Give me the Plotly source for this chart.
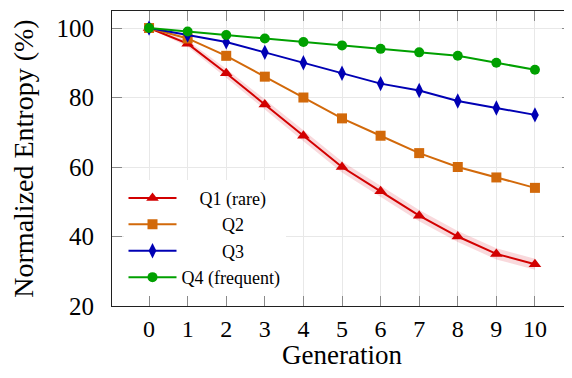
import plotly.graph_objects as go

generations = [0, 1, 2, 3, 4, 5, 6, 7, 8, 9, 10]
q1_rare = [100, 95.5, 87, 78, 69, 60, 53, 46, 40, 35, 32]
q1_spread = [0, 0.9, 1.3, 1.5, 1.6, 1.6, 1.6, 1.6, 1.6, 1.6, 1.6]
q2 = [100, 97, 92, 86, 80, 74, 69, 64, 60, 57, 54]
q3 = [100, 98, 96, 93, 90, 87, 84, 82, 79, 77, 75]
q4_frequent = [100, 99, 98, 97, 96, 95, 94, 93, 92, 90, 88]
y_ticks = [20, 40, 60, 80, 100]

NB = "\u00a0"
FONT = "Liberation Serif"

RED = "#d20000"
ORANGE = "#d2690a"
BLUE = "#0000b4"
GREEN = "#00a000"

fig = go.Figure()

upper = [v + s for v, s in zip(q1_rare, q1_spread)]
lower = [v - s for v, s in zip(q1_rare, q1_spread)]
fig.add_trace(go.Scatter(x=generations, y=upper, mode="lines", line=dict(width=0),
                         showlegend=False, hoverinfo="skip"))
fig.add_trace(go.Scatter(x=generations, y=lower, mode="lines", line=dict(width=0),
                         fill="tonexty", fillcolor="rgba(215,20,40,0.16)",
                         showlegend=False, hoverinfo="skip"))

fig.add_trace(go.Scatter(x=generations, y=q1_rare, mode="lines+markers",
                         name=NB * 4 + "Q1 (rare)",
                         line=dict(color=RED, width=2),
                         marker=dict(symbol="triangle-up", size=11, color=RED)))
fig.add_trace(go.Scatter(x=generations, y=q2, mode="lines+markers",
                         name=NB * 9 + "Q2",
                         line=dict(color=ORANGE, width=2),
                         marker=dict(symbol="square", size=10, color=ORANGE)))
fig.add_trace(go.Scatter(x=generations, y=q3, mode="lines+markers",
                         name=NB * 9 + "Q3",
                         line=dict(color=BLUE, width=2),
                         marker=dict(symbol="diamond-tall", size=11, color=BLUE)))
fig.add_trace(go.Scatter(x=generations, y=q4_frequent, mode="lines+markers",
                         name="Q4 (frequent)",
                         line=dict(color=GREEN, width=2),
                         marker=dict(symbol="circle", size=10, color=GREEN)))

# The page body has an 8px margin, so the figure is offset by 8px.
fig.update_layout(
    width=564, height=362,
    margin=dict(l=104, r=0, t=3, b=64),
    paper_bgcolor="white", plot_bgcolor="white",
    font=dict(family=FONT, color="black", size=24),
    showlegend=True,
    legend=dict(x=0.025, y=0.428, xanchor="left", yanchor="top",
                bgcolor="white", borderwidth=0, traceorder="normal",
                font=dict(family=FONT, size=18, color="black"),
                tracegroupgap=0, itemwidth=48),
)

fig.update_xaxes(
    range=[-0.96, 10.96], tickmode="array", tickvals=generations,
    ticktext=[str(g) for g in generations],
    showgrid=True, gridcolor="#e8e8e8", gridwidth=1,
    showline=True, linecolor="#202020", linewidth=1.2, mirror="ticks",
    ticks="inside", ticklen=10, tickcolor="#8a8a8a", tickwidth=1.2,
    tickfont=dict(family=FONT, size=24),
    ticklabelstandoff=1,
    automargin=False,
    title=dict(text="Generation", font=dict(family=FONT, size=27), standoff=16),
    zeroline=False,
)
fig.update_yaxes(
    range=[20, 104.9], tickmode="array", tickvals=y_ticks,
    ticktext=[str(t) for t in y_ticks],
    showgrid=True, gridcolor="#e8e8e8", gridwidth=1,
    showline=True, linecolor="#202020", linewidth=1.2, mirror="ticks",
    ticks="inside", ticklen=10, tickcolor="#8a8a8a", tickwidth=1.2,
    tickfont=dict(family=FONT, size=25),
    ticklabelstandoff=12,
    automargin=False,
    title=dict(text="Normalized Entropy (%)", font=dict(family=FONT, size=28), standoff=14),
    zeroline=False,
)

fig.write_html("out.html")
